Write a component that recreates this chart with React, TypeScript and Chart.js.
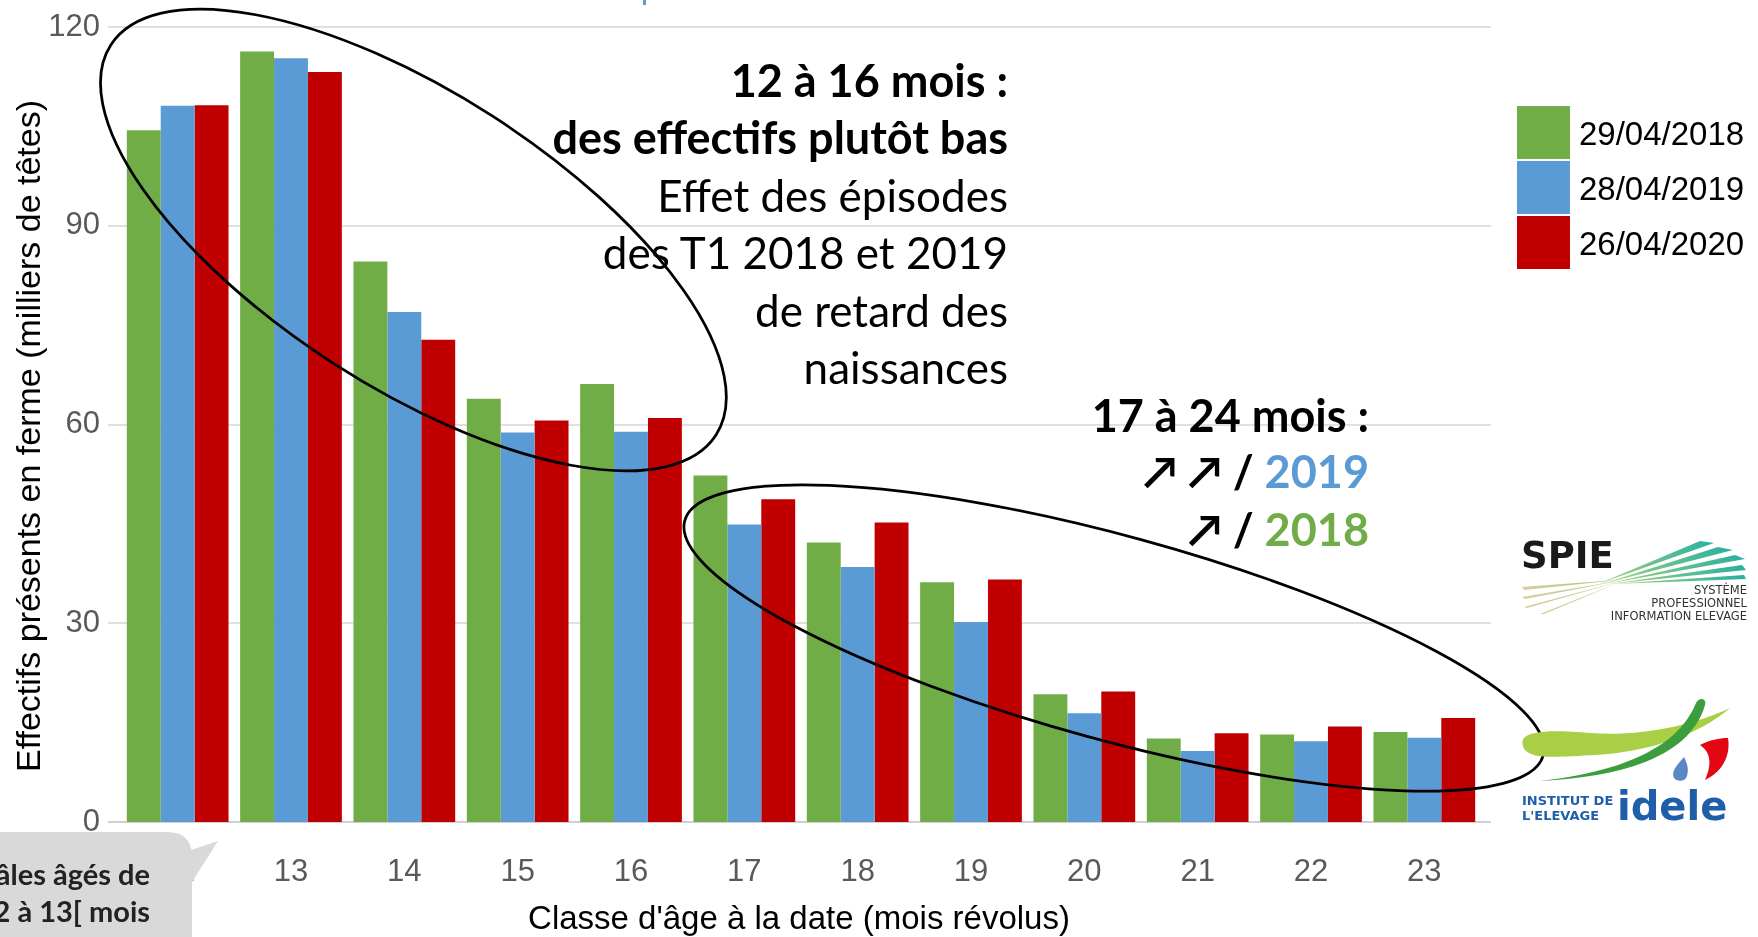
import React, { useEffect, useRef } from "react";
import { Chart, registerables } from "chart.js";

Chart.register(...registerables);

// ---------- DATA ----------
const categories = ["12", "13", "14", "15", "16", "17", "18", "19", "20", "21", "22", "23"];
const values2018 = [104.4, 116.3, 84.6, 63.9, 66.1, 52.3, 42.2, 36.2, 19.3, 12.6, 13.2, 13.6];
const values2019 = [108.1, 115.3, 77.0, 58.8, 58.9, 44.9, 38.5, 30.2, 16.4, 10.7, 12.2, 12.7];
const values2020 = [108.2, 113.2, 72.8, 60.6, 61.0, 48.7, 45.2, 36.6, 19.7, 13.4, 14.4, 15.7];
const seriesLabels = ["29/04/2018", "28/04/2019", "26/04/2020"];
const seriesColors = ["#70AD47", "#5B9BD5", "#C00000"];
const yMin = 0;
const yMax = 120;
const yStep = 30;
const xTitle = "Classe d'âge à la date (mois révolus)";
const yTitle = "Effectifs présents en ferme (milliers de têtes)";

const annotation1 = [
  { text: "12 à 16 mois :", bold: true },
  { text: "des effectifs plutôt bas", bold: true },
  { text: "Effet des épisodes", bold: false },
  { text: "des T1 2018 et 2019", bold: false },
  { text: "de retard des", bold: false },
  { text: "naissances", bold: false },
];

const W = 1758;
const H = 937;
const AXIS_FONT = '"Liberation Sans", Arial, sans-serif';
const NOTE_FONT = 'Lato, "DejaVu Sans", sans-serif';

const gridPlugin = {
  id: "extGrid",
  beforeDatasetsDraw(chart: any) {
    const ys = chart.scales.y;
    const ctx = chart.ctx;
    ctx.save();
    ys.ticks.forEach((t: any) => {
      const py = Math.round(ys.getPixelForValue(t.value));
      ctx.beginPath();
      if (t.value === 0) {
        ctx.strokeStyle = "#d0d0d0";
        ctx.lineWidth = 2;
      } else {
        ctx.strokeStyle = "#d6d6d6";
        ctx.lineWidth = 1.5;
      }
      ctx.moveTo(108, py);
      ctx.lineTo(1491, py);
      ctx.stroke();
    });
    ctx.restore();
  },
};

function ChartCanvas() {
  const ref = useRef<HTMLCanvasElement | null>(null);
  useEffect(() => {
    if (!ref.current) return;
    const series = [values2018, values2019, values2020];
    const chart = new Chart(ref.current, {
      type: "bar",
      data: {
        labels: categories,
        datasets: series.map((vals, i) => ({
          label: seriesLabels[i],
          data: vals,
          backgroundColor: seriesColors[i],
          borderWidth: 0,
          categoryPercentage: 0.8975,
          barPercentage: 1,
        })),
      },
      options: {
        responsive: false,
        animation: false,
        devicePixelRatio: 1,
        layout: { padding: { left: 0, right: W - 1481, top: 27, bottom: 0 } },
        plugins: { legend: { display: false }, tooltip: { enabled: false }, title: { display: false } },
        scales: {
          x: {
            grid: { display: false, drawTicks: false },
            border: { display: false },
            ticks: {
              color: "#595959",
              font: { family: AXIS_FONT, size: 31 },
              padding: 32,
              maxRotation: 0,
              autoSkip: false,
            },
            afterFit: (s: any) => {
              s.height = H - 822;
              s.paddingLeft = 0;
              s.paddingRight = 0;
            },
          },
          y: {
            min: yMin,
            max: yMax,
            grid: { display: false, drawTicks: false },
            border: { display: false },
            ticks: {
              stepSize: yStep,
              color: "#595959",
              font: { family: AXIS_FONT, size: 31 },
              padding: 21,
            },
            afterFit: (s: any) => {
              s.width = 121;
              s.paddingTop = 0;
              s.paddingBottom = 0;
            },
          },
        },
      },
      plugins: [gridPlugin],
    });
    return () => chart.destroy();
  }, []);
  return (
    <canvas
      ref={ref}
      width={W}
      height={H}
      style={{ position: "absolute", left: 0, top: 0, width: W, height: H }}
    />
  );
}

const abs = (extra: React.CSSProperties): React.CSSProperties => ({
  position: "absolute",
  whiteSpace: "nowrap",
  ...extra,
});

export default function App() {
  const noteLH = 57.5;
  const note1Centers = [81, 138, 196, 253, 311, 368];
  const legendTops = [106, 161, 216];
  return (
    <div
      style={{
        position: "absolute",
        left: 0,
        top: 0,
        width: W,
        height: H,
        overflow: "hidden",
        background: "#fff",
      }}
    >
      <ChartCanvas />

      {/* annotation ellipses and logos */}
      <svg
        width={W}
        height={H}
        style={{ position: "absolute", left: 0, top: 0 }}
        viewBox={`0 0 ${W} ${H}`}
      >
        <defs>
          <linearGradient id="raysUp" x1="0" y1="0" x2="1" y2="0">
            <stop offset="0" stopColor="#a9cf7c" />
            <stop offset="1" stopColor="#25b1a1" />
          </linearGradient>
          <linearGradient id="raysDown" x1="1" y1="0" x2="0" y2="0">
            <stop offset="0" stopColor="#a9c27a" />
            <stop offset="1" stopColor="#d8cf9a" />
          </linearGradient>
        </defs>
        <rect x={643} y={0} width={3} height={5} fill="#5B9BD5" />
        <ellipse
          cx={413.4}
          cy={240}
          rx={360}
          ry={147}
          transform="rotate(32.8 413.4 240)"
          fill="none"
          stroke="#000"
          strokeWidth={2.75}
        />
        <ellipse
          cx={1114}
          cy={638}
          rx={445}
          ry={102}
          transform="rotate(15.3 1114 638)"
          fill="none"
          stroke="#000"
          strokeWidth={2.75}
        />

        {/* SPIE logo */}
        <text x={1521} y={568} fontFamily='"DejaVu Sans", sans-serif' fontWeight="bold" fontSize={37} fill="#1a1a1a">
          SPIE
        </text>
        <polygon points="1598,584 1700,541 1714,543" fill="url(#raysUp)" />
        <polygon points="1602,584 1718,547 1733,550" fill="url(#raysUp)" />
        <polygon points="1606,584 1735,555 1745,559" fill="url(#raysUp)" />
        <polygon points="1610,584 1742,565 1746,570" fill="url(#raysUp)" />
        <polygon points="1612,584 1744,575 1746,579" fill="url(#raysUp)" />
        <polygon points="1618,580 1522,587 1524,590" fill="url(#raysDown)" />
        <polygon points="1618,581 1522,597 1525,599" fill="url(#raysDown)" />
        <polygon points="1618,582 1524,607 1527,608" fill="url(#raysDown)" />
        <polygon points="1618,583 1540,614 1544,614" fill="url(#raysDown)" />
        <g fontFamily='"DejaVu Sans", sans-serif' fontSize={11.5} fill="#333" textAnchor="end">
          <text x={1747} y={594}>SYSTÈME</text>
          <text x={1747} y={607}>PROFESSIONNEL</text>
          <text x={1747} y={620}>INFORMATION ELEVAGE</text>
        </g>

        {/* idele logo */}
        <path
          d="M 1523 746 C 1518 731, 1545 729, 1590 733 C 1640 737, 1695 725, 1730 708 C 1700 734, 1650 752, 1595 755 C 1555 757, 1527 760, 1523 746 Z"
          fill="#A8CF45"
        />
        <path
          d="M 1540 781 C 1610 773, 1676 753, 1696 703 C 1699 697, 1707 698, 1705 705 C 1690 757, 1622 777, 1540 781 Z"
          fill="#3C9D3C"
        />
        <path
          d="M 1700 745 C 1710 740, 1719 738, 1728 738 C 1731 756, 1722 772, 1705 780 C 1712 765, 1711 752, 1700 745 Z"
          fill="#E30613"
        />
        <path
          d="M 1684 757 C 1676 766, 1671 772, 1674 778 C 1677 782, 1685 782, 1687 776 C 1689 769, 1687 763, 1684 757 Z"
          fill="#5B87C5"
        />
        <g fontFamily='"DejaVu Sans", sans-serif' fontWeight="bold" fill="#1F5FAA">
          <text x={1522} y={805} fontSize={13}>INSTITUT DE</text>
          <text x={1522} y={820} fontSize={13}>L'ELEVAGE</text>
          <text x={1617} y={820} fontSize={40}>idele</text>
        </g>

        {/* callout */}
        <path d="M -10 832 H 167 Q 192 832 192 857 V 950 H -10 Z" fill="#D9D9D9" />
        <polygon points="185,852 218,841 192,882" fill="#D9D9D9" />
      </svg>

      {/* callout text */}
      {[
        { t: "âles âgés de", c: 874 },
        { t: "2 à 13[ mois", c: 911 },
      ].map((l) => (
        <div
          key={l.t}
          style={abs({
            right: W - 150,
            top: l.c - 19,
            height: 38,
            lineHeight: "38px",
            fontFamily: NOTE_FONT,
            fontWeight: 700,
            fontSize: 29,
            color: "#222",
            textAlign: "right",
          })}
        >
          {l.t}
        </div>
      ))}

      {/* axis titles */}
      <div
        style={abs({
          left: 799,
          top: 917,
          transform: "translate(-50%, -50%)",
          fontFamily: AXIS_FONT,
          fontSize: 33,
          lineHeight: 1,
          color: "#000",
        })}
      >
        {xTitle}
      </div>
      <div
        style={abs({
          left: 28,
          top: 436,
          transform: "translate(-50%, -50%) rotate(-90deg)",
          fontFamily: AXIS_FONT,
          fontSize: 34,
          lineHeight: 1,
          color: "#000",
        })}
      >
        {yTitle}
      </div>

      {/* legend */}
      {seriesLabels.map((lab, i) => (
        <React.Fragment key={lab}>
          <div
            style={abs({
              left: 1517,
              top: legendTops[i],
              width: 53,
              height: 53,
              background: seriesColors[i],
            })}
          />
          <div
            style={abs({
              left: 1579,
              top: legendTops[i] + 27,
              transform: "translateY(-50%)",
              fontFamily: AXIS_FONT,
              fontSize: 33,
              lineHeight: 1,
              color: "#000",
            })}
          >
            {lab}
          </div>
        </React.Fragment>
      ))}

      {/* annotation 1 */}
      {annotation1.map((l, i) => (
        <div
          key={i}
          style={abs({
            right: W - 1008,
            top: note1Centers[i] - noteLH / 2,
            height: noteLH,
            lineHeight: `${noteLH}px`,
            fontFamily: NOTE_FONT,
            fontWeight: l.bold ? 700 : 400,
            fontSize: l.bold ? 45 : 44,
            color: "#000",
            textAlign: "right",
          })}
        >
          {l.text}
        </div>
      ))}

      {/* annotation 2 */}
      {[
        { c: 416, node: <>17 à 24 mois :</> },
        { c: 472, node: <>↗ ↗ / <span style={{ color: seriesColors[1] }}>2019</span></> },
        { c: 530, node: <>↗ / <span style={{ color: seriesColors[0] }}>2018</span></> },
      ].map((l, i) => (
        <div
          key={i}
          style={abs({
            right: W - 1369,
            top: l.c - noteLH / 2,
            height: noteLH,
            lineHeight: `${noteLH}px`,
            fontFamily: NOTE_FONT,
            fontWeight: 700,
            fontSize: 45,
            color: "#000",
            textAlign: "right",
          })}
        >
          {l.node}
        </div>
      ))}
    </div>
  );
}
